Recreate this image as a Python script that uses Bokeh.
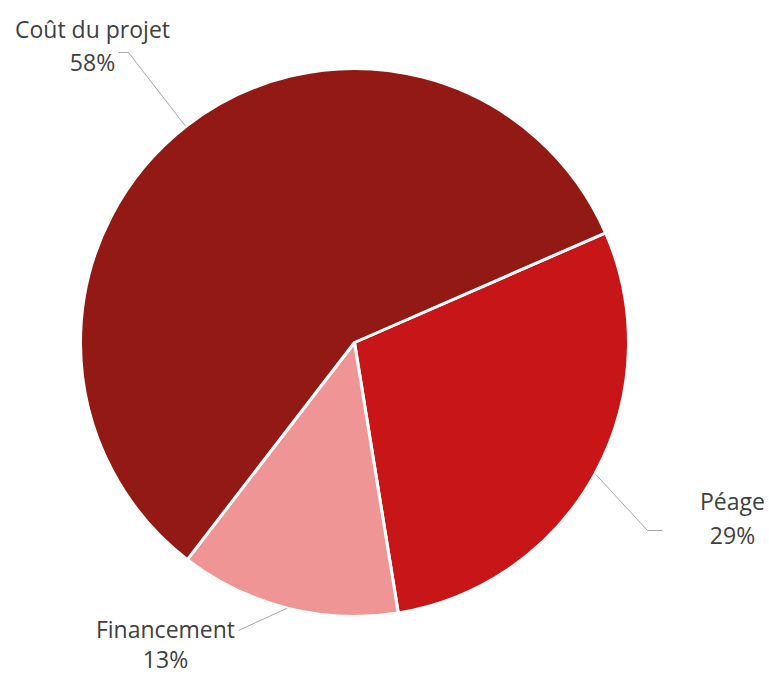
import numpy as np
from bokeh.plotting import figure
from bokeh.models import Range1d
from bokeh.core.properties import value
from bokeh.embed import file_html
from bokeh.resources import INLINE

# data (order drawn clockwise from the first slice angle)
categories = ["Péage", "Financement", "Coût du projet"]
shares = [29, 13, 58]
colors = ["#C81517", "#F09595", "#931A14"]

W, H = 769, 675
p = figure(width=W, height=H, output_backend="svg", toolbar_location=None,
           x_range=Range1d(0, W), y_range=Range1d(0, H), min_border=0)
p.axis.visible = False
p.grid.visible = False
p.outline_line_color = None
p.background_fill_color = "white"
p.border_fill_color = "white"

cx, cy, r = 354, H - 342, 274
first = np.deg2rad(23.6)
vals = np.array(shares, dtype=float)
frac = vals / vals.sum()
cum = np.concatenate([[0], np.cumsum(frac)])
a_hi = first - cum[:-1] * 2 * np.pi
a_lo = first - cum[1:] * 2 * np.pi
mid = (a_hi + a_lo) / 2

p.wedge(x=cx, y=cy, radius=r, start_angle=a_lo, end_angle=a_hi,
        direction="anticlock", fill_color=colors, line_color="white", line_width=3)

# leader-line anchors at the slice mid-angles
ex = cx + r * np.cos(mid)
ey = cy + r * np.sin(mid)

def sy(y):
    return H - y

# label layouts: (elbow points after anchor), label centers (screen px)
layouts = {
    "Péage": ([(647, 530), (662, 530)], (732, 500), (732, 534)),
    "Financement": ([(238, 630)], (165, 628), (165, 658)),
    "Coût du projet": ([(128, 52), (118, 52)], (92, 28), (92, 61)),
}
label_col = "#404040"
for i, cat in enumerate(categories):
    pts, namepos, pctpos = layouts[cat]
    xs = [ex[i]] + [x for x, _ in pts]
    ys = [ey[i]] + [sy(y) for _, y in pts]
    p.line(xs, ys, line_color="#A6A6A6", line_width=1)
    p.text(x=[namepos[0]], y=[sy(namepos[1])], text=[cat], text_align="center",
           text_baseline="middle", text_font=value("Open Sans"), text_font_size="23px",
           text_color=label_col)
    p.text(x=[pctpos[0]], y=[sy(pctpos[1])], text=[f"{shares[i]}%"], text_align="center",
           text_baseline="middle", text_font=value("Open Sans"), text_font_size="23px",
           text_color=label_col)

open("out.html", "w").write(file_html(p, INLINE))
